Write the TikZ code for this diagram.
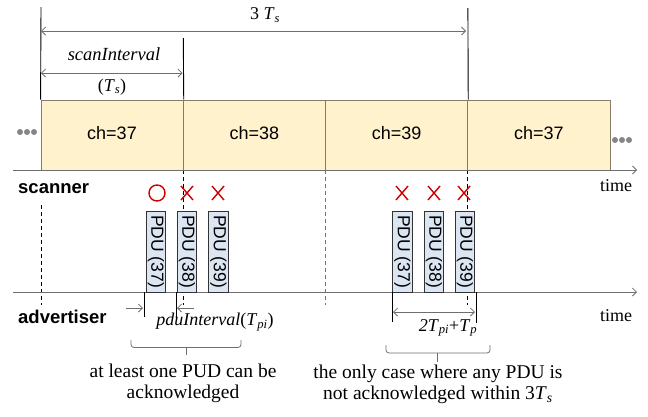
\documentclass[tikz,border=0pt]{standalone}
\usepackage{fontspec}
\setmainfont{Liberation Serif}
\newfontfamily\arialf{Liberation Sans}
\usetikzlibrary{arrows.meta}
\definecolor{boxfill}{HTML}{FFF2CC}
\definecolor{boxline}{HTML}{857B66}
\definecolor{pdufill}{HTML}{DCE6F2}
\definecolor{axisgray}{HTML}{6E6E6E}
\definecolor{markred}{HTML}{CC0000}
\definecolor{dotgray}{HTML}{858585}
\begin{document}
\begin{tikzpicture}[x=1pt,y=-1pt,
  gl/.style={draw=axisgray, line width=0.8pt},
  arr/.style={gl,-{Straight Barb[length=4pt,width=8pt]}},
  darr/.style={gl,{Straight Barb[length=4pt,width=8pt]}-{Straight Barb[length=4pt,width=8pt]}},
  vline/.style={draw=black,line width=0.9pt},
  dline/.style={draw=black,line width=0.9pt,dash pattern=on 4pt off 3pt},
  dlinegray/.style={draw=black!55,line width=0.9pt,dash pattern=on 4pt off 3pt},
  chbox/.style={draw=boxline,fill=boxfill,line width=0.9pt,minimum width=142.25pt,minimum height=70pt,inner sep=0pt},
  chtext/.style={font=\arialf\fontsize{18}{20}\selectfont,inner sep=0pt},
  pdubox/.style={draw=black!80,fill=pdufill,line width=0.8pt,minimum width=81pt,minimum height=19.5pt,inner sep=0pt,rotate=-90,font=\arialf\fontsize{17.5}{19}\selectfont},
  lbl/.style={font=\fontsize{18}{21}\selectfont,inner sep=0pt},
  biglbl/.style={font=\fontsize{19.5}{21}\selectfont,inner sep=0pt,align=center},
  side/.style={font=\arialf\bfseries\fontsize{18.5}{21}\selectfont,inner sep=0pt,anchor=west},
  redmark/.style={draw=markred,line width=1.4pt},
  bracketline/.style={draw=axisgray,line width=0.8pt,rounded corners=3pt}
]
\useasboundingbox (0,0) rectangle (648,416);

% dashed guides (under everything)
\coordinate (d1s) at (41,205);   \coordinate (d1e) at (41,305);
\coordinate (d2s) at (183.3,170); \coordinate (d2e) at (183.3,305);
\coordinate (d3s) at (325.6,170); \coordinate (d3e) at (325.6,305);
\coordinate (d4s) at (467.9,170); \coordinate (d4e) at (467.9,305);
\draw[dline] (d1s) -- (d1e);
\draw[dline] (d2s) -- (d2e);
\draw[dlinegray] (d3s) -- (d3e);
\draw[dline] (d4s) -- (d4e);

% channel boxes
\node[chbox] (c1) at (112.15,135) {};
\node[chbox] (c2) at (254.4,135) {};
\node[chbox] (c3) at (396.65,135) {};
\node[chbox] (c4) at (538.9,135) {};
\node[chtext] (c1t) at (112,133) {ch=37};
\node[chtext] (c2t) at (254.4,133) {ch=38};
\node[chtext] (c3t) at (396.65,133) {ch=39};
\node[chtext] (c4t) at (538.9,133) {ch=37};

% dots
\fill[dotgray] (20,132) circle[radius=3] (27,132) circle[radius=3] (34,132) circle[radius=3];
\fill[dotgray] (615,140) circle[radius=3] (622,140) circle[radius=3] (629,140) circle[radius=3];

% top vertical lines
\coordinate (t1) at (41,7);
\coordinate (t2) at (183.3,38);
\coordinate (t4) at (467.9,8);
\draw[vline] (t1) -- (c1.north west);
\draw[vline] (t2) -- (c1.north east);
\draw[vline] (t4) -- (c3.north east);

% 3 Ts arrow
\coordinate (a1) at (41,31); \coordinate (a2) at (466,31);
\draw[darr] (a1) -- (a2);
\node[lbl] (l3ts) at (265,15) {3 \textit{T}\textsubscript{\textit{s}}};

% scanInterval arrow
\coordinate (s1) at (41,73); \coordinate (s2) at (182.5,73);
\draw[darr] (s1) -- (s2);
\node[lbl] (lsi) at (114,54) {\fontsize{18.5}{21}\selectfont\textit{scanInterval}};
\node[lbl] (lts) at (112,87) {(\textit{T}\textsubscript{\textit{s}})};

% axes
\coordinate (ax1s) at (13,170); \coordinate (ax1e) at (637,170);
\coordinate (ax2s) at (13,292); \coordinate (ax2e) at (637,292);
\draw[arr] (ax1s) -- (ax1e);
\draw[arr] (ax2s) -- (ax2e);
\node[lbl] (time1) at (616,186) {time};
\node[lbl] (time2) at (616,316) {time};
\node[side] (scn) at (18,189) {scanner};
\node[side] (adv) at (18,317) {advertiser};

% PDU boxes
\node[pdubox] (p1) at (156,251.5) {PDU (37)};
\node[pdubox] (p2) at (187,251.5) {PDU (38)};
\node[pdubox] (p3) at (218.5,251.5) {PDU (39)};
\node[pdubox] (p4) at (402.5,251.5) {PDU (37)};
\node[pdubox] (p5) at (434,251.5) {PDU (38)};
\node[pdubox] (p6) at (465,251.5) {PDU (39)};

% marks
\draw[redmark] (157,193) circle[radius=8];
\foreach \mx in {187,218,402,434,464}{
  \draw[redmark] (\mx-6,186) -- (\mx+6,200) (\mx-6,200) -- (\mx+6,186);
}

% pduInterval
\coordinate (v1s) at (144,292); \coordinate (v1e) at (144,317);
\coordinate (v2s) at (176,292); \coordinate (v2e) at (176,318);
\draw[vline] (v1s) -- (v1e);
\draw[vline] (v2s) -- (v2e);
\coordinate (pa1) at (126,308); \coordinate (pa2) at (143,308);
\coordinate (pb1) at (194,308); \coordinate (pb2) at (177,308);
\draw[arr] (pa1) -- (pa2);
\draw[arr] (pb1) -- (pb2);
\node[lbl] (lpdu) at (215,322) {\textit{pduInterval}(\textit{T}\textsubscript{\textit{pi}})};

% 2Tpi + Tp
\coordinate (w1s) at (392,292); \coordinate (w1e) at (392,322);
\coordinate (w2s) at (476,292); \coordinate (w2e) at (476,323);
\draw[vline] (w1s) -- (w1e);
\draw[vline] (w2s) -- (w2e);
\coordinate (q1) at (393,312); \coordinate (q2) at (475,312);
\draw[darr] (q1) -- (q2);
\node[lbl] (l2t) at (448,328) {\textit{2T}\textsubscript{\textit{pi}}+\textit{T}\textsubscript{\textit{p}}};

% brackets
\coordinate (b1s) at (131,340); \coordinate (b1e) at (241,340);
\coordinate (b1m) at (186,347.5); \coordinate (b1t) at (186,355);
\draw[bracketline] (b1s) -- (131,347.5) -- (241,347.5) -- (b1e);
\draw[draw=axisgray,line width=0.8pt] (b1m) -- (b1t);
\coordinate (b2s) at (386,345); \coordinate (b2e) at (490,345);
\coordinate (b2m) at (437,353); \coordinate (b2t) at (437,362);
\draw[bracketline] (b2s) -- (386,353) -- (490,353) -- (b2e);
\draw[draw=axisgray,line width=0.8pt] (b2m) -- (b2t);

% bottom texts
\node[biglbl] (n1) at (183,383) {at least one PUD can be\\acknowledged};
\node[biglbl] (n2) at (438,384) {the only case where any PDU is\\not acknowledged within 3\textit{T}\textsubscript{\textit{s}}};
\end{tikzpicture}
\end{document}
